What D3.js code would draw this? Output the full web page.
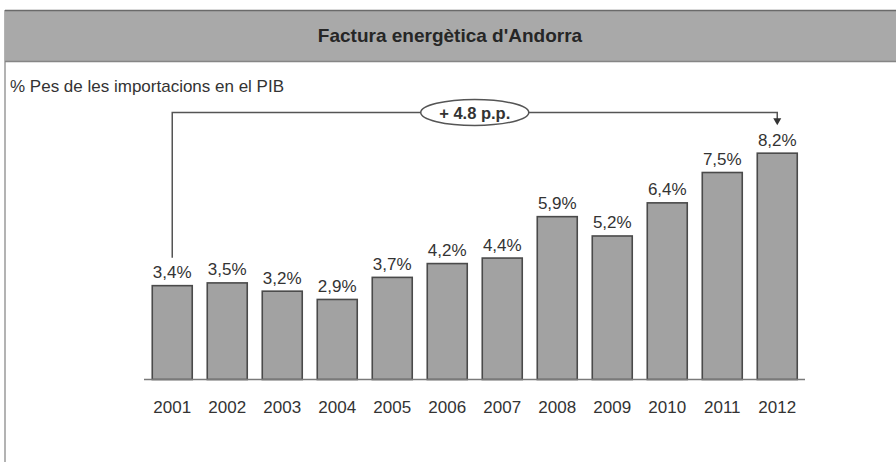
<!DOCTYPE html>
<html>
<head>
<meta charset="utf-8">
<script src="https://cdn.jsdelivr.net/npm/d3@7"></script>
<style>
  html, body { margin: 0; padding: 0; background: #fff; }
  svg { display: block; font-family: "Liberation Sans", Arial, sans-serif; }
</style>
</head>
<body>
<svg id="chart" width="896" height="462"></svg>
<script>
const years = ["2001","2002","2003","2004","2005","2006","2007","2008","2009","2010","2011","2012"];
const values = [3.4, 3.5, 3.2, 2.9, 3.7, 4.2, 4.4, 5.9, 5.2, 6.4, 7.5, 8.2];
const valueLabels = ["3,4%","3,5%","3,2%","2,9%","3,7%","4,2%","4,4%","5,9%","5,2%","6,4%","7,5%","8,2%"];
const title = "Factura energètica d'Andorra";
const subtitle = "% Pes de les importacions en el PIB";
const annotation = "+ 4.8 p.p.";

const svg = d3.select("#chart");
const W = 896, H = 462;

// frame + title bar
svg.append("line").attr("x1", 5).attr("x2", 5).attr("y1", 10).attr("y2", H)
  .attr("stroke", "#9a9a9a").attr("stroke-width", 1.5);
svg.append("rect").attr("x", 5).attr("y", 10).attr("width", W - 5).attr("height", 52)
  .attr("fill", "#a9a9a9");
svg.append("line").attr("x1", 5).attr("x2", W).attr("y1", 10.5).attr("y2", 10.5)
  .attr("stroke", "#6a6a6a").attr("stroke-width", 1.5);
svg.append("line").attr("x1", 5).attr("x2", W).attr("y1", 61.5).attr("y2", 61.5)
  .attr("stroke", "#858585").attr("stroke-width", 1.5);
svg.append("text").attr("x", 450).attr("y", 42).attr("text-anchor", "middle")
  .attr("font-size", 19).attr("font-weight", "bold").attr("fill", "#262626").text(title);
svg.append("text").attr("x", 10).attr("y", 92)
  .attr("font-size", 17).attr("fill", "#333").text(subtitle);

// scales
const x = d3.scaleBand().domain(years).range([144, 805.5]).paddingInner(0.273).paddingOuter(0.15);
const y = d3.scaleLinear().domain([0, 10]).range([379.5, 103.5]);

// bars
svg.append("g").selectAll("rect").data(values).join("rect")
  .attr("x", (d, i) => x(years[i]))
  .attr("y", d => y(d))
  .attr("width", x.bandwidth())
  .attr("height", d => y(0) - y(d))
  .attr("fill", "#a2a2a2").attr("stroke", "#4a4a4a").attr("stroke-width", 1.6);

// value labels
svg.append("g").selectAll("text").data(values).join("text")
  .attr("x", (d, i) => x(years[i]) + x.bandwidth() / 2)
  .attr("y", d => y(d) - 7.5)
  .attr("text-anchor", "middle").attr("font-size", 17).attr("fill", "#333")
  .text((d, i) => valueLabels[i]);

// x axis
const xAxis = svg.append("g").attr("transform", `translate(0,${y(0)})`)
  .call(d3.axisBottom(x).tickSize(0).tickPadding(21));
xAxis.select(".domain").attr("stroke", "#7a7a7a").attr("stroke-width", 1.5).attr("d", "M144,0H805");
xAxis.selectAll("text").attr("font-size", 17).attr("fill", "#333")
  .attr("font-family", "'Liberation Sans', Arial, sans-serif");

// annotation
const xFirst = x(years[0]) + x.bandwidth() / 2;
const xLast = x(years[years.length - 1]) + x.bandwidth() / 2;
const yLine = 112.5;
const xMid = (xFirst + xLast) / 2;
const stroke = "#555";
svg.append("path")
  .attr("d", `M${xFirst},${y(values[0]) - 28}V${yLine}H${xLast}V${y(values[values.length-1]) - 34}`)
  .attr("fill", "none").attr("stroke", stroke).attr("stroke-width", 1.5);
const tipY = y(values[values.length - 1]) - 28;
svg.append("path")
  .attr("d", `M${xLast - 4},${tipY - 7}L${xLast + 4},${tipY - 7}L${xLast},${tipY}Z`)
  .attr("fill", "#333");
svg.append("ellipse").attr("cx", xMid).attr("cy", yLine).attr("rx", 54).attr("ry", 13)
  .attr("fill", "#fff").attr("stroke", stroke).attr("stroke-width", 1.5);
svg.append("text").attr("x", xMid).attr("y", yLine + 6).attr("text-anchor", "middle")
  .attr("font-size", 16.5).attr("font-weight", "bold").attr("fill", "#333").text(annotation);
</script>
</body>
</html>
